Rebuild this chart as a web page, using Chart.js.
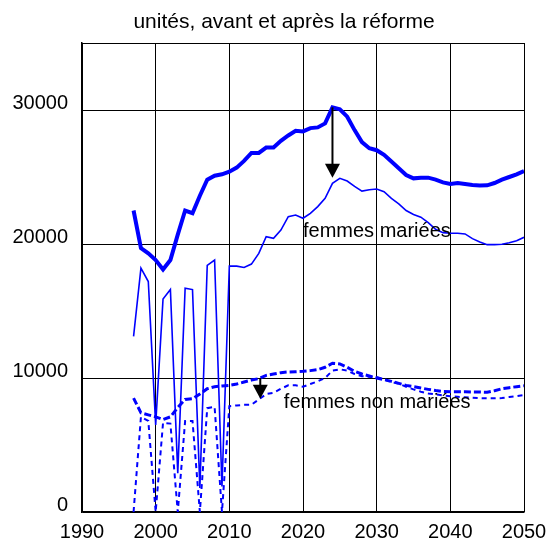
<!DOCTYPE html>
<html>
<head>
<meta charset="utf-8">
<script src="https://cdn.jsdelivr.net/npm/chart.js"></script>
<style>
  body { margin: 0; background: #fff; }
  canvas { display: block; }
</style>
</head>
<body>
<canvas id="chart" width="550" height="539"></canvas>
<script>
const titleText = 'unités, avant et après la réforme';

const years = [];
for (let y = 1997; y <= 2050; y++) years.push(y);

// femmes mariées, avant la réforme (trait épais)
const marieesAvant = [
  22500, 19700, 19300, 18800, 18100, 18800, 20700, 22500, 22300, 23600,
  24800, 25100, 25200, 25400, 25700, 26200, 26800, 26800, 27200, 27200,
  27700, 28100, 28450, 28400, 28650, 28700, 29000, 30200, 30050, 29500,
  28500, 27600, 27150, 27000, 26650, 26150, 25650, 25150, 24900, 24950,
  24950, 24800, 24600, 24480, 24550, 24480, 24400, 24370, 24380, 24550,
  24800, 25000, 25200, 25450
];
// femmes mariées, après la réforme (trait fin)
const marieesApres = [
  13100, 18200, 17200, 6500, 15900, 16600, 2900, 16700, 16600, 1800,
  18400, 18800, 1900, 18350, 18350, 18250, 18500, 19300, 20550, 20420,
  21040, 22040, 22160, 21920, 22290, 22790, 23410, 24530, 24900, 24700,
  24300, 23950, 24050, 24100, 23900, 23400, 23000, 22500, 22200, 22000,
  21600, 21100, 20850, 20800, 20800, 20750, 20400, 20150, 19950, 19950,
  19980, 20100, 20250, 20500
];
// femmes non mariées, avant la réforme (tirets épais)
const nonMarieesAvant = [
  8500, 7400, 7250, 7100, 6900, 7100, 7800, 8400, 8450, 8800,
  9200, 9350, 9400, 9450, 9550, 9700, 9850, 9950, 10200, 10300,
  10400, 10450, 10470, 10500, 10550, 10620, 10800, 11100, 11050, 10800,
  10500, 10300, 10150, 10000, 9880, 9750, 9600, 9450, 9350, 9250,
  9150, 9060, 9000, 8980, 8980, 8980, 8960, 8950, 8930, 9050,
  9200, 9280, 9350, 9420
];
// femmes non mariées, après la réforme (tirets fins)
const nonMarieesApres = [
  0, 7100, 6800, 0, 6650, 6600, 0, 6800, 6800, 0,
  7750, 7850, 0, 7900, 7950, 8000, 8000, 8400, 8800, 8900,
  9200, 9450, 9450, 9350, 9550, 9750, 10000, 10550, 10650, 10550,
  10300, 10130, 10100, 10080, 9900, 9700, 9580, 9350, 9150, 8980,
  8850, 8780, 8700, 8640, 8600, 8560, 8520, 8490, 8480, 8480,
  8500, 8580, 8650, 8730
];

const xTicks = [1990, 2000, 2010, 2020, 2030, 2040, 2050];
const yTicks = [0, 10000, 20000, 30000];

// annotations : flèches (année, de, à) et libellés (année, valeur, texte)
const arrows = [
  { year: 2024, from: 30200, to: 24950 },
  { year: 2014.2, from: 10000, to: 8450 }
];
const labels = [
  { year: 2020, value: 20500, text: 'femmes mariées' },
  { year: 2017.4, value: 7750, text: 'femmes non mariées' }
];

const pts = vals => years.map((y, i) => ({ x: y, y: vals[i] }));
const blue = '#0000ff';

const annotate = {
  id: 'annotate',
  afterDatasetsDraw(chart) {
    const ctx = chart.ctx;
    const xs = chart.scales.x, ys = chart.scales.y;
    ctx.save();
    ctx.fillStyle = '#000';
    ctx.strokeStyle = '#000';
    ctx.lineWidth = 2;
    arrows.forEach(a => {
      const x = xs.getPixelForValue(a.year);
      const y0 = ys.getPixelForValue(a.from);
      const y1 = ys.getPixelForValue(a.to);
      ctx.beginPath();
      ctx.moveTo(x, y0);
      ctx.lineTo(x, y1 - 12);
      ctx.stroke();
      ctx.beginPath();
      ctx.moveTo(x - 7.5, y1 - 14);
      ctx.lineTo(x + 7.5, y1 - 14);
      ctx.lineTo(x, y1);
      ctx.closePath();
      ctx.fill();
    });
    ctx.font = '20px "Liberation Sans", Arial, sans-serif';
    ctx.textAlign = 'left';
    ctx.textBaseline = 'alphabetic';
    labels.forEach(l => {
      ctx.fillText(l.text, xs.getPixelForValue(l.year), ys.getPixelForValue(l.value));
    });
    ctx.restore();
  },
  afterDraw(chart) {
    const ctx = chart.ctx;
    ctx.save();
    ctx.fillStyle = '#000';
    ctx.font = '21px "Liberation Sans", Arial, sans-serif';
    ctx.textAlign = 'center';
    ctx.textBaseline = 'alphabetic';
    ctx.fillText(titleText, 284, 28);
    ctx.restore();
  }
};

new Chart(document.getElementById('chart'), {
  type: 'line',
  data: {
    datasets: [
      { data: pts(marieesAvant), borderColor: blue, borderWidth: 4 },
      { data: pts(marieesApres), borderColor: blue, borderWidth: 1.6 },
      { data: pts(nonMarieesAvant), borderColor: blue, borderWidth: 3, borderDash: [7, 3] },
      { data: pts(nonMarieesApres), borderColor: blue, borderWidth: 2, borderDash: [5, 4] }
    ]
  },
  options: {
    responsive: false,
    animation: false,
    layout: { padding: { top: 43, right: 26, left: 0, bottom: 0 } },
    elements: { point: { radius: 0 }, line: { tension: 0, fill: false } },
    plugins: { legend: { display: false }, tooltip: { enabled: false }, title: { display: false } },
    scales: {
      x: {
        type: 'linear',
        min: 1990,
        max: 2050,
        afterBuildTicks: s => { s.ticks = xTicks.map(v => ({ value: v })); },
        ticks: {
          color: '#000',
          font: { size: 20, family: '"Liberation Sans", Arial, sans-serif' },
          padding: 8,
          maxRotation: 0,
          callback: v => String(v)
        },
        grid: { color: '#000', lineWidth: 1, drawTicks: false },
        border: { color: '#000', width: 1.5 },
        afterFit: s => { s.height = 27; s.paddingLeft = 0; s.paddingRight = 0; }
      },
      y: {
        min: 0,
        max: 35000,
        afterBuildTicks: s => { s.ticks = yTicks.concat([35000]).map(v => ({ value: v })); },
        ticks: {
          color: '#000',
          font: { size: 20, family: '"Liberation Sans", Arial, sans-serif' },
          padding: 14,
          labelOffset: -7,
          callback: v => (v === 35000 ? '' : String(v))
        },
        grid: { color: '#000', lineWidth: 1, drawTicks: false },
        border: { color: '#000', width: 1.5 },
        afterFit: s => { s.width = 82; s.paddingTop = 0; s.paddingBottom = 0; }
      }
    }
  },
  plugins: [annotate]
});
</script>
</body>
</html>
